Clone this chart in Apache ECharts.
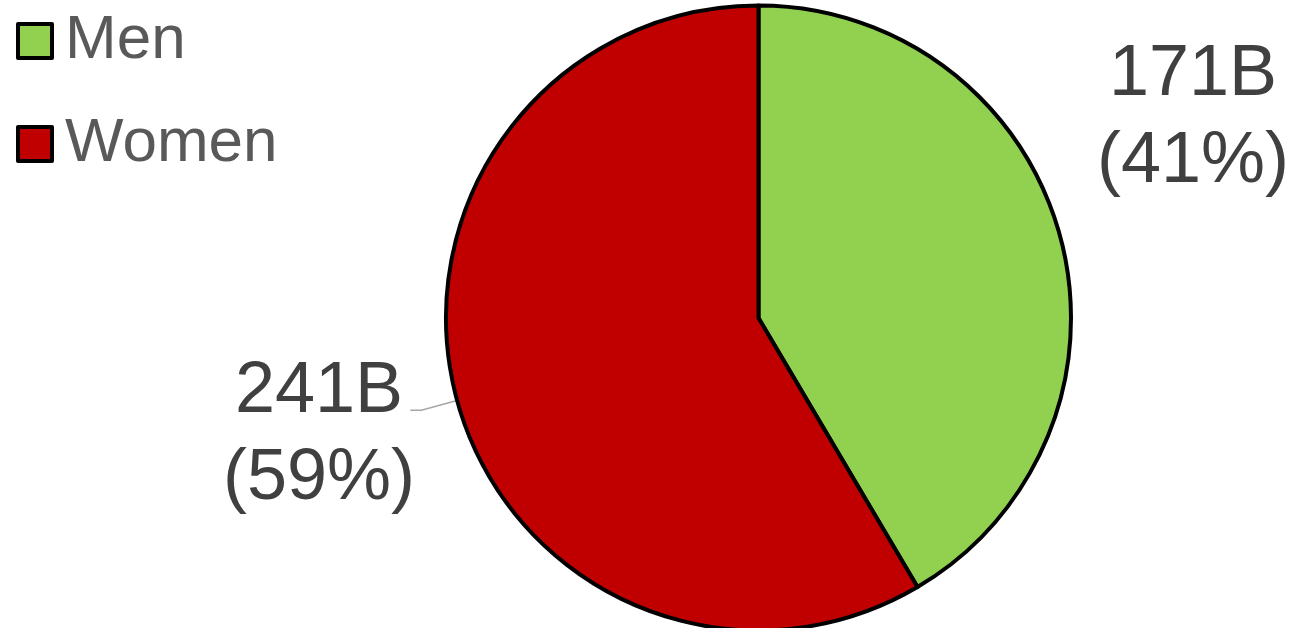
<!DOCTYPE html>
<html>
<head>
<meta charset="utf-8">
<title>Spending by gender</title>
<script src="https://cdn.jsdelivr.net/npm/echarts@6/dist/echarts.min.js"></script>
<style>
  html, body { margin: 0; padding: 0; background: #ffffff; }
  #chart { width: 1292px; height: 628px; }
</style>
</head>
<body>
<div id="chart"></div>
<script>
// Spending split, in billions
const categories = ['Men', 'Women'];
const values = [171, 241];
const percentLabels = [41, 59];
const colors = ['#92d050', '#c00000'];

// Pie geometry
const CENTER = [758.5, 318];
const RADIUS = 312.5;
const FONT = "'Liberation Sans', Arial, Helvetica, sans-serif";

const chart = echarts.init(document.getElementById('chart'), null, { renderer: 'canvas' });

const seriesData = categories.map((name, i) => ({
  name: name,
  value: values[i],
  itemStyle: { color: colors[i] },
  labelLine: { show: i === 1 }
}));

chart.setOption({
  animation: false,
  backgroundColor: '#ffffff',
  legend: {
    orient: 'vertical',
    left: 16,
    top: 6,
    padding: 0,
    icon: 'rect',
    itemWidth: 34,
    itemHeight: 34,
    itemGap: 33,
    data: categories,
    itemStyle: { borderColor: '#000000', borderWidth: 4 },
    textStyle: {
      fontFamily: FONT,
      fontSize: 62,
      lineHeight: 70,
      color: '#595959',
      padding: [0, 0, 0, 8]
    }
  },
  series: [{
    type: 'pie',
    center: CENTER,
    radius: RADIUS,
    startAngle: 90,
    clockwise: true,
    itemStyle: { borderColor: '#000000', borderWidth: 4 },
    emphasis: { disabled: true },
    label: {
      show: true,
      position: 'outside',
      overflow: 'none',
      fontFamily: FONT,
      fontSize: 72,
      lineHeight: 87,
      color: '#404040',
      formatter: p => `${values[p.dataIndex]}B\n(${percentLabels[p.dataIndex]}%)`
    },
    labelLine: {
      show: true,
      length: 20,
      length2: 10,
      lineStyle: { color: '#a6a6a6', width: 1.5 }
    },
    labelLayout: function (params) {
      if (params.dataIndex === 0) {
        return { x: 1193, y: 119, align: 'center', verticalAlign: 'middle' };
      }
      // Women: label to the left, leader line running radially then flat
      const p0 = params.labelLinePoints ? params.labelLinePoints[0] : null;
      const out = { x: 319, y: 436, align: 'center', verticalAlign: 'middle' };
      if (p0) {
        const dx = (p0[0] - CENTER[0]) / RADIUS;
        const dy = (p0[1] - CENTER[1]) / RADIUS;
        const p1 = [p0[0] + dx * 37, p0[1] + dy * 37];
        const p2 = [p1[0] - 11, p1[1]];
        out.labelLinePoints = [p0, p1, p2];
      }
      return out;
    },
    data: seriesData
  }]
});
</script>
</body>
</html>
